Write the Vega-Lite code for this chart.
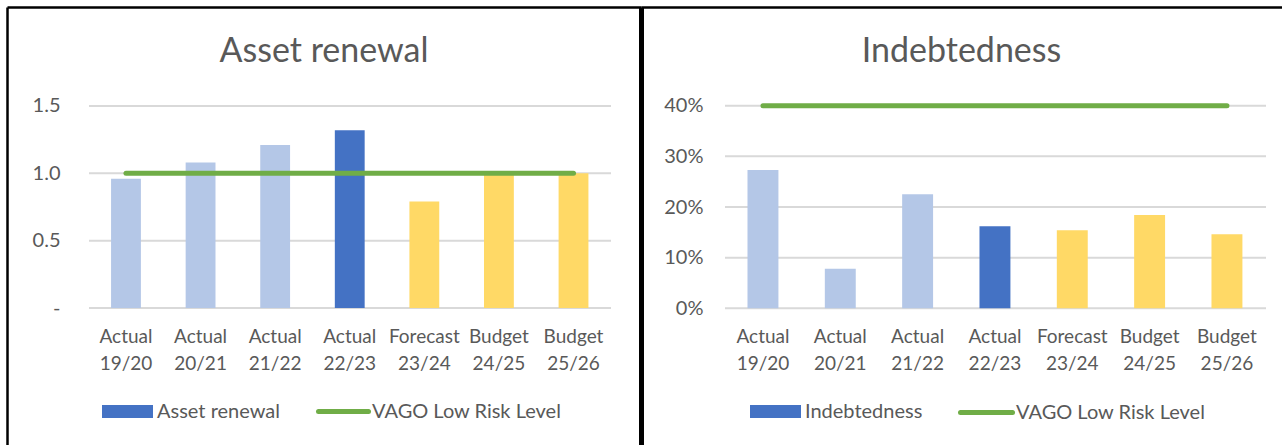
{
  "$schema": "https://vega.github.io/schema/vega-lite/v6.json",
  "padding": {"left": 7, "top": 7, "right": 0, "bottom": 0},
  "background": "white",
  "spacing": 0,
  "config": {
    "font": "Lato",
    "view": {"stroke": null},
    "title": {"font": "Lato", "fontSize": 34, "fontWeight": "normal", "color": "#595959", "anchor": "middle", "frame": "group", "offset": -62},
    "axis": {"labelFont": "Lato", "labelColor": "#595959", "grid": false, "ticks": false, "tickSize": 0, "title": null},
    "legend": {"labelFont": "Lato", "labelFontSize": 20, "labelColor": "#595959", "title": null, "padding": 0, "labelOffset": 4, "orient": "none", "labelLimit": 400}
  },
  "resolve": {
    "scale": {"x": "independent", "y": "independent", "color": "independent", "stroke": "independent"},
    "legend": {"color": "independent", "stroke": "independent"},
    "axis": {"x": "independent", "y": "independent"}
  },
  "hconcat": [
    {
      "width": 634,
      "height": 438,
      "title": "Asset renewal",
      "resolve": {"scale": {"x": "independent"}, "axis": {"x": "independent"}},
      "layer": [
        {
          "data": {"values": [{"g": 0}, {"g": 0.5}, {"g": 1}, {"g": 1.5}]},
          "mark": {"type": "rule", "color": "#D9D9D9", "strokeWidth": 2},
          "encoding": {
            "x": {"datum": "Actual 19/20", "type": "nominal",
              "scale": {"type": "point", "domain": ["Actual 19/20", "Actual 20/21", "Actual 21/22", "Actual 22/23", "Forecast 23/24", "Budget 24/25", "Budget 25/26"], "padding": 0.6437, "align": 0.7321},
              "axis": {"orient": "top", "domain": true, "domainColor": "black", "domainWidth": 2.5, "labels": false, "ticks": false}},
            "x2": {"datum": "Budget 25/26"},
            "y": {"field": "g", "type": "quantitative"}
          }
        },
        {
          "data": {"values": [
            {"period": "Actual 19/20", "value": 0.96, "kind": "Actual", "low": 1.0},
            {"period": "Actual 20/21", "value": 1.08, "kind": "Actual", "low": 1.0},
            {"period": "Actual 21/22", "value": 1.21, "kind": "Actual", "low": 1.0},
            {"period": "Actual 22/23", "value": 1.32, "kind": "Asset renewal", "low": 1.0},
            {"period": "Forecast 23/24", "value": 0.79, "kind": "Projection", "low": 1.0},
            {"period": "Budget 24/25", "value": 0.99, "kind": "Projection", "low": 1.0},
            {"period": "Budget 25/26", "value": 1.0, "kind": "Projection", "low": 1.0}
          ]},
          "layer": [
            {
              "mark": {"type": "bar", "width": {"band": 0.8}},
              "encoding": {
                "x": {"field": "period", "type": "nominal", "sort": null,
                  "scale": {"type": "band", "paddingInner": 0.5, "paddingOuter": 1, "align": 0.6726},
                  "axis": {"orient": "bottom", "offset": -118, "domain": false, "labelPadding": 0, "labelAngle": 0, "labelFontSize": 19, "labelLineHeight": 27, "labelBaseline": "top", "labelExpr": "split(datum.label, ' ')"}},
                "y": {"field": "value", "type": "quantitative",
                  "scale": {"domain": [-1.0173, 2.2351], "nice": false, "zero": false},
                  "axis": {"orient": "left", "values": [0, 0.5, 1, 1.5], "labelExpr": "datum.value === 0 ? '-\u00a0\u00a0\u00a0' : format(datum.value, '.1f')", "domain": true, "domainColor": "black", "domainWidth": 2.5, "labelPadding": -53, "labelFontSize": 20}},
                "y2": {"datum": 0},
                "color": {"field": "kind", "type": "nominal",
                  "scale": {"domain": ["Actual", "Asset renewal", "Projection"], "range": ["#B4C7E7", "#4472C4", "#FFD966"]},
                  "legend": {"values": ["Asset renewal"], "legendX": 95, "legendY": 379, "symbolType": "M-1,-0.255H1V0.255H-1Z", "symbolSize": 2601, "symbolStrokeWidth": 0}}
              }
            },
            {
              "mark": {"type": "line", "strokeWidth": 5, "strokeCap": "round"},
              "encoding": {
                "x": {"field": "period", "type": "nominal", "sort": null},
                "y": {"field": "low", "type": "quantitative"},
                "stroke": {"datum": "VAGO Low Risk Level",
                  "scale": {"domain": ["VAGO Low Risk Level"], "range": ["#70AD47"]},
                  "legend": {"legendX": 309, "legendY": 377, "symbolType": "stroke", "symbolSize": 2500, "symbolStrokeWidth": 5, "labelOffset": 1,
                    "symbolStrokeColor": "#70AD47", "encode": {"symbols": {"update": {"strokeCap": {"value": "round"}}}}}}
              }
            }
          ]
        }
      ]
    },
    {
      "width": 641,
      "height": 438,
      "title": "Indebtedness",
      "resolve": {"scale": {"x": "independent"}, "axis": {"x": "independent"}},
      "layer": [
        {
          "data": {"values": [{"g": 0}, {"g": 0.1}, {"g": 0.2}, {"g": 0.3}, {"g": 0.4}]},
          "mark": {"type": "rule", "color": "#D9D9D9", "strokeWidth": 2},
          "encoding": {
            "x": {"datum": "Actual 19/20", "type": "nominal",
              "scale": {"type": "point", "domain": ["Actual 19/20", "Actual 20/21", "Actual 21/22", "Actual 22/23", "Forecast 23/24", "Budget 24/25", "Budget 25/26"], "padding": 0.5545, "align": 0.84},
              "axis": {"orient": "top", "domain": true, "domainColor": "black", "domainWidth": 2.5, "labels": false, "ticks": false}},
            "x2": {"datum": "Budget 25/26"},
            "y": {"field": "g", "type": "quantitative"}
          }
        },
        {
          "data": {"values": [
            {"period": "Actual 19/20", "value": 0.273, "kind": "Actual", "low": 0.4},
            {"period": "Actual 20/21", "value": 0.078, "kind": "Actual", "low": 0.4},
            {"period": "Actual 21/22", "value": 0.225, "kind": "Actual", "low": 0.4},
            {"period": "Actual 22/23", "value": 0.162, "kind": "Indebtedness", "low": 0.4},
            {"period": "Forecast 23/24", "value": 0.154, "kind": "Projection", "low": 0.4},
            {"period": "Budget 24/25", "value": 0.184, "kind": "Projection", "low": 0.4},
            {"period": "Budget 25/26", "value": 0.146, "kind": "Projection", "low": 0.4}
          ]},
          "layer": [
            {
              "mark": {"type": "bar"},
              "encoding": {
                "x": {"field": "period", "type": "nominal", "sort": null,
                  "scale": {"type": "band", "paddingInner": 0.6, "paddingOuter": 0.9445, "align": 0.729},
                  "axis": {"orient": "bottom", "offset": -118, "domain": false, "labelPadding": 0, "labelAngle": 0, "labelFontSize": 19, "labelLineHeight": 27, "labelBaseline": "top", "labelExpr": "split(datum.label, ' ')"}},
                "y": {"field": "value", "type": "quantitative",
                  "scale": {"domain": [-0.2699, 0.5949], "nice": false, "zero": false},
                  "axis": {"orient": "left", "values": [0, 0.1, 0.2, 0.3, 0.4], "format": ".0%", "domain": true, "domainColor": "black", "domainWidth": 5, "labelPadding": -62, "labelFontSize": 20}},
                "y2": {"datum": 0},
                "color": {"field": "kind", "type": "nominal",
                  "scale": {"domain": ["Actual", "Indebtedness", "Projection"], "range": ["#B4C7E7", "#4472C4", "#FFD966"]},
                  "legend": {"values": ["Indebtedness"], "legendX": 109, "legendY": 379, "symbolType": "M-1,-0.255H1V0.255H-1Z", "symbolSize": 2601, "symbolStrokeWidth": 0}}
              }
            },
            {
              "mark": {"type": "line", "strokeWidth": 5, "strokeCap": "round"},
              "encoding": {
                "x": {"field": "period", "type": "nominal", "sort": null},
                "y": {"field": "low", "type": "quantitative"},
                "stroke": {"datum": "VAGO Low Risk Level",
                  "scale": {"domain": ["VAGO Low Risk Level"], "range": ["#70AD47"]},
                  "legend": {"legendX": 317, "legendY": 377, "symbolType": "stroke", "symbolSize": 2704, "symbolStrokeWidth": 5, "labelOffset": 1,
                    "symbolStrokeColor": "#70AD47", "encode": {"symbols": {"update": {"strokeCap": {"value": "round"}}}}}}
              }
            }
          ]
        }
      ]
    }
  ]
}
